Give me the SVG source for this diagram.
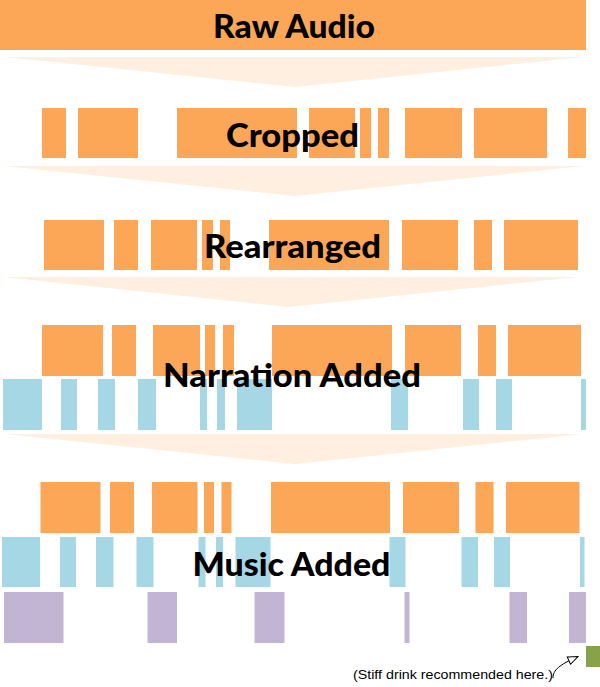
<svg xmlns="http://www.w3.org/2000/svg" width="600" height="687" viewBox="0 0 600 687">
<style>
.o{fill:#FCA658}
.b{fill:#A5D7E4}
.p{fill:#C2B5D4}
.g{fill:#88A24C}
.f{fill:#FEEFE0}
.t{font-family:Lato,"Open Sans","DejaVu Sans",sans-serif;font-weight:900;font-size:32px;fill:#000}
.n{font-family:"Liberation Sans",Arial,sans-serif;font-size:13.5px;fill:#000}
</style>
<defs>
<marker id="ah" viewBox="0 0 12 10" refX="11" refY="5" markerWidth="12" markerHeight="10" markerUnits="userSpaceOnUse" orient="auto">
<path d="M1,1 L11,5 L1,9 Z" fill="#fff" stroke="#000" stroke-width="1"/>
</marker>
</defs>
<g id="connectors">
<polygon class="f" points="5,57 583,57 295,87"/>
<polygon class="f" points="4,166 584,166 294,196"/>
<polygon class="f" points="3,277 578,277 289,307"/>
<polygon class="f" points="5,434 582,434 295,464"/>
<path d="M553,678 C553,670 559,665 578,656.5" fill="none" stroke="#000" stroke-width="1" marker-end="url(#ah)"/>
</g>
<g id="raw-audio">
<rect class="o" x="0" y="0" width="586" height="50"/>
<text class="t" x="294" y="37.5" text-anchor="middle" textLength="162" lengthAdjust="spacingAndGlyphs">Raw Audio</text>
</g>
<g id="cropped">
<rect class="o" x="42" y="108" width="24" height="50"/>
<rect class="o" x="78" y="108" width="60" height="50"/>
<rect class="o" x="177" y="108" width="120" height="50"/>
<rect class="o" x="309" y="108" width="46" height="50"/>
<rect class="o" x="360" y="108" width="11" height="50"/>
<rect class="o" x="378" y="108" width="11" height="50"/>
<rect class="o" x="405" y="108" width="57" height="50"/>
<rect class="o" x="474" y="108" width="73" height="50"/>
<rect class="o" x="568" y="108" width="18" height="50"/>
<text class="t" x="292.5" y="147" text-anchor="middle" textLength="133" lengthAdjust="spacingAndGlyphs">Cropped</text>
</g>
<g id="rearranged">
<rect class="o" x="44" y="220" width="60" height="50"/>
<rect class="o" x="114" y="220" width="24" height="50"/>
<rect class="o" x="151" y="220" width="46" height="50"/>
<rect class="o" x="202" y="220" width="11" height="50"/>
<rect class="o" x="220" y="220" width="10" height="50"/>
<rect class="o" x="269" y="220" width="120" height="50"/>
<rect class="o" x="402" y="220" width="56" height="50"/>
<rect class="o" x="474" y="220" width="18" height="50"/>
<rect class="o" x="504" y="220" width="74" height="50"/>
<text class="t" x="292.5" y="258" text-anchor="middle" textLength="177" lengthAdjust="spacingAndGlyphs">Rearranged</text>
</g>
<g id="narration-added">
<rect class="o" x="42" y="325" width="61" height="51"/>
<rect class="o" x="112" y="325" width="24" height="51"/>
<rect class="o" x="153" y="325" width="47" height="51"/>
<rect class="o" x="205" y="325" width="10" height="51"/>
<rect class="o" x="223" y="325" width="11" height="51"/>
<rect class="o" x="272" y="325" width="120" height="51"/>
<rect class="o" x="405" y="325" width="56" height="51"/>
<rect class="o" x="478" y="325" width="18" height="51"/>
<rect class="o" x="508" y="325" width="73" height="51"/>
<rect class="b" x="3" y="379" width="39" height="51"/>
<rect class="b" x="61" y="379" width="16" height="51"/>
<rect class="b" x="98" y="379" width="17" height="51"/>
<rect class="b" x="138" y="379" width="18" height="51"/>
<rect class="b" x="200" y="379" width="7" height="51"/>
<rect class="b" x="217" y="379" width="8" height="51"/>
<rect class="b" x="237" y="379" width="35" height="51"/>
<rect class="b" x="391" y="379" width="17" height="51"/>
<rect class="b" x="463" y="379" width="16" height="51"/>
<rect class="b" x="496" y="379" width="16" height="51"/>
<rect class="b" x="581" y="379" width="5" height="51"/>
<text class="t" x="292" y="387" text-anchor="middle" textLength="258" lengthAdjust="spacingAndGlyphs">Narration Added</text>
</g>
<g id="music-added">
<rect class="o" x="40.5" y="482" width="60" height="51"/>
<rect class="o" x="110" y="482" width="24" height="51"/>
<rect class="o" x="152" y="482" width="45.5" height="51"/>
<rect class="o" x="204" y="482" width="10" height="51"/>
<rect class="o" x="221.5" y="482" width="10" height="51"/>
<rect class="o" x="271" y="482" width="119" height="51"/>
<rect class="o" x="403" y="482" width="56" height="51"/>
<rect class="o" x="475.5" y="482" width="18" height="51"/>
<rect class="o" x="506" y="482" width="73.5" height="51"/>
<rect class="b" x="2" y="537" width="38" height="50"/>
<rect class="b" x="60" y="537" width="16" height="50"/>
<rect class="b" x="96" y="537" width="17.5" height="50"/>
<rect class="b" x="136.5" y="537" width="17" height="50"/>
<rect class="b" x="198.5" y="537" width="7" height="50"/>
<rect class="b" x="216" y="537" width="7" height="50"/>
<rect class="b" x="235.5" y="537" width="35" height="50"/>
<rect class="b" x="389.5" y="537" width="16" height="50"/>
<rect class="b" x="461.5" y="537" width="16.5" height="50"/>
<rect class="b" x="494" y="537" width="16" height="50"/>
<rect class="b" x="580" y="537" width="4.5" height="50"/>
<rect class="p" x="4" y="592" width="59.5" height="51"/>
<rect class="p" x="147.5" y="592" width="29.5" height="51"/>
<rect class="p" x="254.5" y="592" width="30" height="51"/>
<rect class="p" x="404.5" y="592" width="5" height="51"/>
<rect class="p" x="509.5" y="592" width="17.5" height="51"/>
<rect class="p" x="569" y="592" width="17" height="51"/>
<text class="t" x="291.5" y="575.5" text-anchor="middle" textLength="198" lengthAdjust="spacingAndGlyphs">Music Added</text>
</g>
<g id="stiff-drink">
<rect class="g" x="586" y="646" width="14" height="21"/>
<text class="n" x="353" y="679" textLength="200" lengthAdjust="spacingAndGlyphs">(Stiff drink recommended here.)</text>
</g>
</svg>
